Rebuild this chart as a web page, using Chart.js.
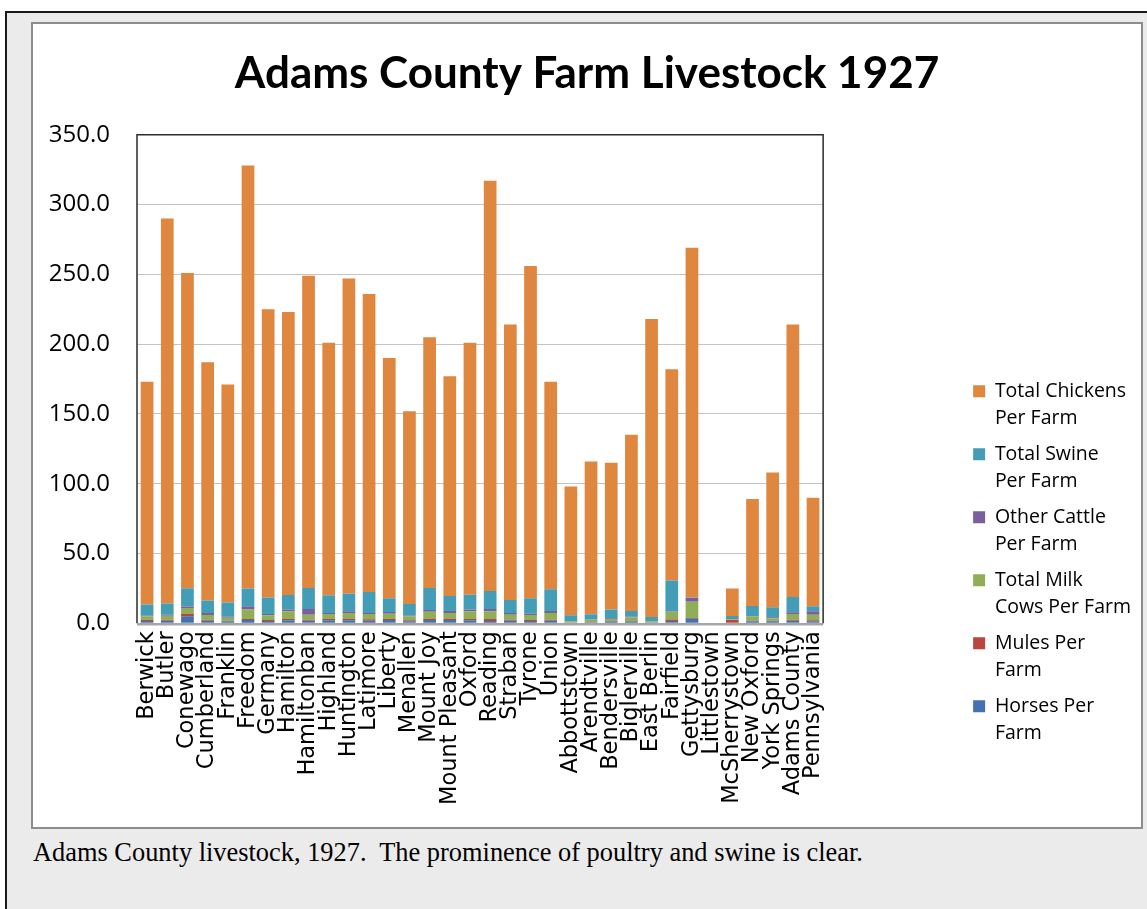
<!DOCTYPE html>
<html>
<head>
<meta charset="utf-8">
<script src="https://cdn.jsdelivr.net/npm/chart.js@4.4.1/dist/chart.umd.min.js"></script>
<style>
  body { margin: 0; background: #fff; width: 1147px; height: 909px; overflow: hidden; position: relative; }
  #frame { position: absolute; left: 5px; top: 11px; right: 0; bottom: 0; border-top: 2px solid #1a1a1a; border-left: 2px solid #1a1a1a; background: #ebebeb; }
  #box { position: absolute; left: 31px; top: 22px; width: 1108px; height: 803px; border: 2px solid #8c8c8c; background: #fff; }
  #caption { position: absolute; left: 33px; top: 837px; font: 26.4px "Liberation Serif", serif; color: #000; white-space: pre; }
</style>
</head>
<body>
<div id="frame"></div>
<div id="box"><canvas id="chart" width="1108" height="803"></canvas></div>
<div id="caption">Adams County livestock, 1927.  The prominence of poultry and swine is clear.</div>
<script>
document.addEventListener('DOMContentLoaded', () => {
    // --- Data (per farm) ---
    const townships = ['Berwick', 'Butler', 'Conewago', 'Cumberland', 'Franklin', 'Freedom', 'Germany', 'Hamilton',
        'Hamiltonban', 'Highland', 'Huntington', 'Latimore', 'Liberty', 'Menallen', 'Mount Joy', 'Mount Pleasant',
        'Oxford', 'Reading', 'Straban', 'Tyrone', 'Union', 'Abbottstown', 'Arendtville', 'Bendersville', 'Biglerville',
        'East Berlin', 'Fairfield', 'Gettysburg', 'Littlestown', 'McSherrystown', 'New Oxford', 'York Springs',
        'Adams County', 'Pennsylvania'];

    const horses = [1.6, 1.9, 5.0, 1.9, 1.4, 2.4, 1.7, 2.1, 1.9, 2.1, 2.1, 1.9, 2.4, 1.4, 2.4, 2.4, 2.1, 1.7, 1.9, 1.7,
        1.9, 0.5, 0.7, 1.2, 1.2, 0.5, 1.7, 3.3, 0, 0.4, 1.4, 1.4, 1.9, 1.4];
    const mules = [0.9, 0.7, 1.7, 0.7, 0.5, 0.7, 0.7, 1.0, 0.7, 1.0, 1.0, 1.0, 0.7, 0.7, 0.7, 0.7, 1.0, 1.4, 0.7, 0.7,
        0.7, 0.1, 0.4, 0.5, 0.5, 0.2, 1.0, 0.5, 0, 2.0, 0.5, 0.5, 0.7, 0.7];
    const milkCows = [2.5, 2.8, 4.3, 3.3, 2.1, 6.7, 3.3, 5.5, 3.6, 3.6, 4.3, 3.8, 3.8, 2.9, 5.2, 4.3, 5.5, 5.5, 3.6, 3.6,
        4.8, 0.8, 1.4, 1.4, 2.4, 0.7, 5.5, 11.7, 0, 0.5, 3.1, 1.7, 4.1, 4.1];
    const otherCattle = [0.6, 0.8, 1.0, 1.4, 0.7, 2.4, 1.0, 1.2, 4.1, 0.7, 1.2, 0.7, 1.2, 0.5, 1.2, 1.4, 1.2, 1.7, 1.2, 0.9,
        1.4, 0.2, 0.2, 0.5, 0.7, 0.1, 0.4, 2.6, 0, 0.2, 0.2, 0.7, 1.2, 2.4];
    const swine = [7.8, 7.9, 13.1, 9.1, 10.2, 12.8, 11.7, 10.5, 15.0, 12.6, 12.6, 15.0, 9.8, 8.3, 15.8, 10.8, 10.7, 12.9,
        9.3, 11.0, 15.5, 4.1, 3.8, 6.2, 4.0, 3.0, 22.0, 0.3, 0, 2.2, 7.2, 7.2, 11.0, 3.6];
    const chickens = [159.6, 275.9, 225.9, 170.6, 156.1, 303.0, 206.6, 202.7, 223.7, 181.0, 225.8, 213.6, 172.1, 138.2,
        179.7, 157.4, 180.5, 293.8, 197.3, 238.1, 148.7, 92.3, 109.5, 105.2, 126.2, 213.5, 151.4, 250.6, 0, 19.7,
        76.6, 96.5, 195.1, 77.8];

    const yTicks = [0, 50, 100, 150, 200, 250, 300, 350];

    // --- Plot area frame (Excel style) ---
    const plotFrame = {
        id: 'plotFrame',
        afterDatasetsDraw(chart) {
            const { ctx, chartArea: a } = chart;
            ctx.save();
            ctx.strokeStyle = '#2b2b2b';
            ctx.lineWidth = 1.5;
            ctx.beginPath();
            ctx.moveTo(a.left, a.bottom);
            ctx.lineTo(a.left, a.top);
            ctx.lineTo(a.right, a.top);
            ctx.lineTo(a.right, a.bottom);
            ctx.stroke();
            ctx.strokeStyle = '#a6a6a6';
            ctx.lineWidth = 2.5;
            ctx.beginPath();
            ctx.moveTo(a.left, a.bottom + 1);
            ctx.lineTo(a.right, a.bottom + 1);
            ctx.stroke();
            ctx.restore();
        }
    };

    const makeSet = (label, data, color) => ({ label, data, backgroundColor: color, borderWidth: 0 });

    new Chart(document.getElementById('chart').getContext('2d'), {
        type: 'bar',
        data: {
            labels: townships,
            datasets: [
                makeSet(['Horses Per', 'Farm'], horses, '#4472b0'),
                makeSet(['Mules Per', 'Farm'], mules, '#b9463f'),
                makeSet(['Total Milk', 'Cows Per Farm'], milkCows, '#8fae55'),
                makeSet(['Other Cattle', 'Per Farm'], otherCattle, '#7a5f9d'),
                makeSet(['Total Swine', 'Per Farm'], swine, '#449db6'),
                makeSet(['Total Chickens', 'Per Farm'], chickens, '#df863f')
            ]
        },
        options: {
            responsive: false,
            animation: false,
            datasets: { bar: { barPercentage: 0.63, categoryPercentage: 1 } },
            layout: { padding: { left: 0, right: 0, top: 0, bottom: 14 } },
            plugins: {
                title: {
                    display: true,
                    text: 'Adams County Farm Livestock 1927',
                    color: '#000',
                    font: { family: 'Lato', size: 44, weight: 'bold' },
                    padding: { top: 23, bottom: 35 }
                },
                legend: {
                    position: 'right',
                    align: 'start',
                    reverse: true,
                    title: { display: true, text: ' ', font: { size: 12, lineHeight: 1.2 }, padding: { top: 334, bottom: 0 } },
                    labels: {
                        boxWidth: 12, boxHeight: 12, padding: 9, color: '#000',
                        font: { family: 'Open Sans', size: 19.5, lineHeight: 1.385 }
                    }
                },
                tooltip: { enabled: false }
            },
            scales: {
                x: {
                    stacked: true,
                    grid: { display: false, drawTicks: false },
                    border: { display: false },
                    ticks: {
                        autoSkip: false, maxRotation: 90, minRotation: 90, padding: 8, color: '#000',
                        font: { family: 'DejaVu Sans', size: 22.5 }
                    }
                },
                y: {
                    stacked: true,
                    min: 0, max: 350,
                    afterBuildTicks: s => { s.ticks = yTicks.map(v => ({ value: v })); },
                    afterFit: s => { s.width = 104; },
                    grid: { color: '#c4c4c4', lineWidth: 1, drawTicks: false },
                    border: { display: false },
                    ticks: {
                        padding: 27, color: '#000',
                        font: { family: 'Open Sans', size: 24 },
                        callback: v => v.toFixed(1)
                    }
                },
                y2: {
                    type: 'linear',
                    position: 'right',
                    grid: { display: false, drawTicks: false },
                    border: { display: false },
                    ticks: { display: false },
                    afterFit: s => { s.width = 141; }
                }
            }
        },
        plugins: [plotFrame]
    });
});
</script>
</body>
</html>
